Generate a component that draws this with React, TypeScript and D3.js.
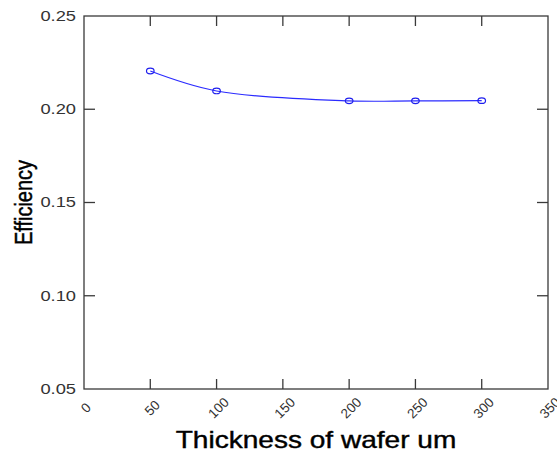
import React from 'react';
import * as d3 from 'd3';

// values
const thickness = [50, 100, 200, 250, 300];
const efficiency = [0.2205, 0.2098, 0.2045, 0.2045, 0.2046];
const xTicks = [0, 50, 100, 150, 200, 250, 300, 350];
const yTicks = [0.05, 0.1, 0.15, 0.2, 0.25];

const W = 557;
const H = 453;
const margin = { top: 16, right: 9, bottom: 64, left: 84 };
const FONT = '"Liberation Sans", Arial, sans-serif';
const SX = 1.22; // the original text is a bit stretched sideways

const App = () => {
  const x = d3.scaleLinear().domain([0, 350]).range([margin.left, W - margin.right]);
  const y = d3.scaleLinear().domain([0.05, 0.25]).range([H - margin.bottom, margin.top]);

  const pts = thickness.map((t, i) => [t, efficiency[i]] as [number, number]);
  const line = d3.line<[number, number]>()
    .x(d => x(d[0]))
    .y(d => y(d[1]))
    .curve(d3.curveCatmullRom.alpha(0.5));

  const x0 = x.range()[0], x1 = x.range()[1];
  const y0 = y.range()[0], y1 = y.range()[1];
  const axisColor = '#3a3a3a';

  return (
    <svg width={W} height={H} style={{ position: 'absolute', left: 0, top: 0, background: '#fff' }}>
      {/* frame */}
      <rect x={x0} y={y1} width={x1 - x0} height={y0 - y1} fill="none" stroke={axisColor} strokeWidth={1.3} />

      {/* inward ticks on x (bottom + top) */}
      {xTicks.slice(1, -1).map(t => (
        <g key={'xt' + t} stroke={axisColor} strokeWidth={1.3}>
          <line x1={x(t)} x2={x(t)} y1={y0} y2={y0 - 10} />
          <line x1={x(t)} x2={x(t)} y1={y1} y2={y1 + 10} />
        </g>
      ))}
      {/* inward ticks on y (left + right) */}
      {yTicks.slice(1, -1).map(t => (
        <g key={'yt' + t} stroke={axisColor} strokeWidth={1.3}>
          <line x1={x0} x2={x0 + 11} y1={y(t)} y2={y(t)} />
          <line x1={x1} x2={x1 - 11} y1={y(t)} y2={y(t)} />
        </g>
      ))}

      {/* y tick labels */}
      {yTicks.map(t => (
        <text key={'yl' + t}
          transform={`translate(${x0 - 8},${y(t)}) scale(${SX},1)`}
          textAnchor="end" dominantBaseline="central"
          fontFamily={FONT} fontSize={15} fill="#333">
          {d3.format('.2f')(t)}
        </text>
      ))}

      {/* x tick labels, rotated */}
      {xTicks.map(t => (
        <text key={'xl' + t}
          transform={`translate(${x(t) + 2},${y0 + 19}) rotate(-45)`}
          textAnchor="middle" dominantBaseline="central"
          fontFamily={FONT} fontSize={13.5} fill="#333">
          {t}
        </text>
      ))}

      {/* series */}
      <path d={line(pts) || ''} fill="none" stroke="#2b2bff" strokeWidth={1.2} />
      {pts.map((d, i) => (
        <ellipse key={'p' + i} cx={x(d[0])} cy={y(d[1])} rx={3.8} ry={2.8}
          fill="none" stroke="#2020ee" strokeWidth={1.2} />
      ))}

      {/* axis titles */}
      <text transform={`translate(${(x0 + x1) / 2},448) scale(${SX},1)`}
        textAnchor="middle" fontFamily={FONT} fontSize={23} fill="#000"
        stroke="#000" strokeWidth={0.4}>
        Thickness of wafer um
      </text>
      <text transform={`translate(32,${(y0 + y1) / 2}) scale(${SX},1) rotate(-90)`}
        textAnchor="middle" fontFamily={FONT} fontSize={20} fill="#000"
        stroke="#000" strokeWidth={0.4}>
        Efficiency
      </text>
    </svg>
  );
};

export default App;
